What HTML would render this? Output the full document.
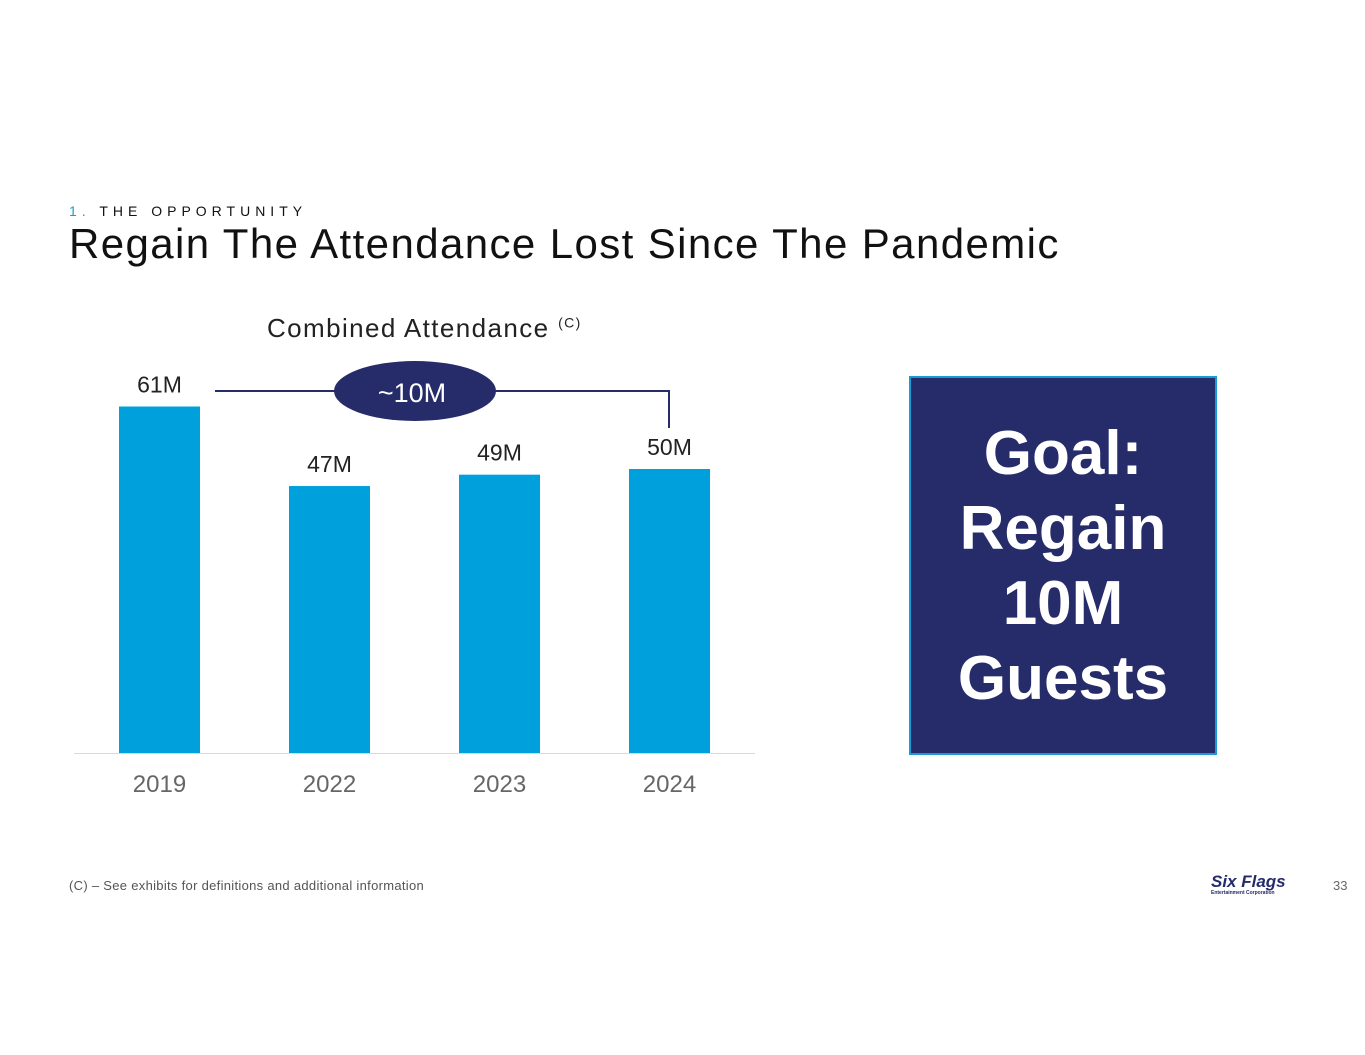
<!DOCTYPE html>
<html><head><meta charset="utf-8"><style>
body{margin:0;width:1365px;height:1055px;background:#fff;position:relative;overflow:hidden;font-family:"Liberation Sans",sans-serif}
.abs{position:absolute}
</style></head><body>
<div class="abs" style="left:69px;top:203px;font-size:14px;letter-spacing:5px;color:#111"><span style="color:#1a9ad6">1.</span> THE OPPORTUNITY</div>
<div class="abs" style="left:69px;top:220px;font-size:42px;letter-spacing:1.4px;color:#111;white-space:nowrap">Regain The Attendance Lost Since The Pandemic</div>
<div class="abs" style="left:267px;top:313px;font-size:26px;letter-spacing:1.4px;color:#222;white-space:nowrap">Combined Attendance <sup style="font-size:14px">(C)</sup></div>
<svg class="abs" style="left:0;top:0" width="1365" height="1055">
<g id="bars"></g>
<line x1="74" x2="755" y1="753.5" y2="753.5" stroke="#d9d9d9"/>
<polyline points="215,391 669,391 669,428" fill="none" stroke="#252c69" stroke-width="2"/>
<ellipse cx="415" cy="391" rx="81" ry="30" fill="#252c69"/>
<text x="412" y="402" text-anchor="middle" font-size="27" fill="#fff" font-family="Liberation Sans">~10M</text>
</svg>
<div class="abs" style="left:909px;top:376px;width:304px;height:375px;background:#252c69;border:2px solid #1a9ad6;color:#fff;font-weight:bold;font-size:62px;line-height:75px;text-align:center;display:flex;align-items:center;justify-content:center">Goal:<br>Regain<br>10M<br>Guests</div>
<div class="abs" style="left:69px;top:878px;font-size:13px;letter-spacing:0.3px;color:#555">(C) – See exhibits for definitions and additional information</div>
<div class="abs" style="left:1211px;top:873px;color:#252c69;font-weight:bold;font-style:italic;font-size:17px;line-height:17px">Six Flags<div style="font-size:5px;line-height:7px;font-style:normal">Entertainment Corporation</div></div>
<div class="abs" style="left:1333px;top:878px;font-size:13px;color:#666">33</div>
<script>
const categories=["2019","2022","2023","2024"];
const values=[61,47,49,50];
const labels=["61M","47M","49M","50M"];
const ns="http://www.w3.org/2000/svg";
const g=document.getElementById('bars');
const base=753, scale=5.68;
const xPos=i=>119+i*170;
const yPos=v=>base-v*scale;
categories.forEach((c,i)=>{
 const r=document.createElementNS(ns,'rect');
 
 
 r.setAttribute('x',xPos(i));r.setAttribute('width',81);
 r.setAttribute('y',yPos(values[i]));r.setAttribute('height',base-yPos(values[i]));
 r.setAttribute('fill','#00a0dc');g.appendChild(r);
 const t=document.createElementNS(ns,'text');
 
 
 t.setAttribute('x',xPos(i)+40.5);t.setAttribute('y',yPos(values[i])-14);
 t.setAttribute('text-anchor','middle');t.setAttribute('font-size','23');t.setAttribute('fill','#222');
 t.textContent=labels[i];g.appendChild(t);
 const x=document.createElementNS(ns,'text');
 
 
 x.setAttribute('x',xPos(i)+40.5);x.setAttribute('y',792);
 x.setAttribute('text-anchor','middle');x.setAttribute('font-size','24');x.setAttribute('fill','#666');
 x.textContent=c;g.appendChild(x);
});
</script>
</body></html>
